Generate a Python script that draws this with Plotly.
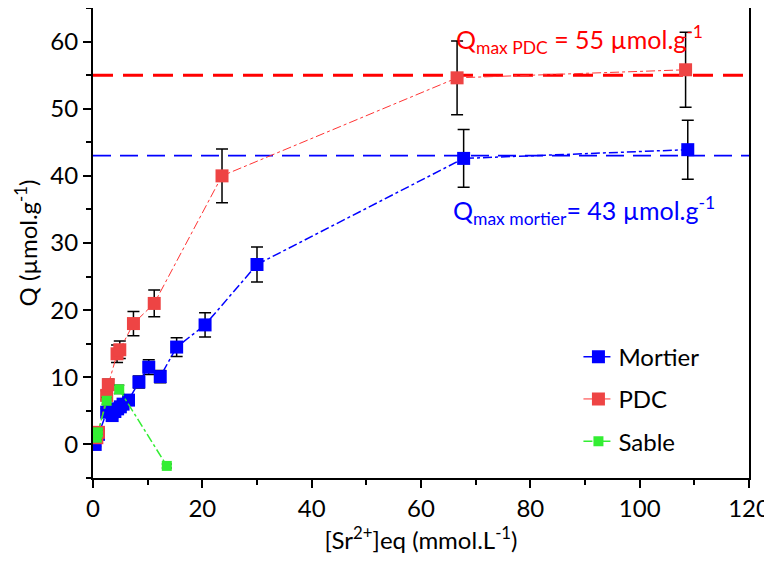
import plotly.graph_objects as go

# Mortier
mortier_x = [0.4, 1.0, 2.5, 3.0, 3.5, 4.0, 4.5, 5.0, 5.5, 6.5, 8.4, 10.2, 12.3, 15.3, 20.5, 30.0, 67.8, 108.8]
mortier_y = [0.0, 1.5, 4.8, 5.2, 4.3, 4.9, 5.3, 5.6, 6.0, 6.6, 9.3, 11.5, 10.1, 14.5, 17.8, 26.8, 42.6, 43.9]
mortier_err = [0.3, 0.3, 0.5, 0.5, 0.4, 0.5, 0.5, 0.5, 0.6, 0.6, 0.9, 1.1, 0.9, 1.4, 1.8, 2.6, 4.3, 4.4]

# PDC
pdc_x = [0.7, 1.0, 2.5, 2.8, 4.4, 4.9, 7.4, 11.2, 23.6, 66.6, 108.4]
pdc_y = [1.0, 1.8, 7.3, 8.9, 13.5, 14.1, 18.0, 21.0, 40.0, 54.6, 55.8]
pdc_err = [0.2, 0.2, 0.7, 0.8, 1.3, 1.3, 1.8, 2.0, 4.0, 5.5, 5.6]

# Sable
sable_x = [0.7, 0.9, 2.5, 4.8, 13.5]
sable_y = [1.0, 1.8, 6.5, 8.2, -3.2]
sable_err = [0.3, 0.3, 0.5, 0.6, 0.3]

# Qmax
qmax_pdc = 55
qmax_mortier = 43

x_range = [0, 120]
y_range = [-5, 65]

BLUE = "#0000ff"
RED = "#ee4444"
GREEN = "#33ee33"
FONT = "Lato"

fig = go.Figure()

fig.add_trace(go.Scatter(x=x_range, y=[qmax_pdc, qmax_pdc], mode="lines",
                         line=dict(color="#ff0000", width=3, dash="20px,10px"),
                         showlegend=False, hoverinfo="skip"))
fig.add_trace(go.Scatter(x=x_range, y=[qmax_mortier, qmax_mortier], mode="lines",
                         line=dict(color=BLUE, width=1.8, dash="18px,9px"),
                         showlegend=False, hoverinfo="skip"))

fig.add_trace(go.Scatter(
    x=mortier_x, y=mortier_y, name="Mortier", mode="lines+markers", legendgroup="m",
    line=dict(color=BLUE, width=1.5, dash="dashdot"),
    marker=dict(symbol="square", size=13, color=BLUE),
    error_y=dict(type="data", array=mortier_err, color="black", thickness=1.5, width=6)))
fig.add_trace(go.Scatter(
    x=pdc_x, y=pdc_y, name="PDC", mode="lines+markers", legendgroup="p",
    line=dict(color="#ff3333", width=1, dash="dashdot"),
    marker=dict(symbol="square", size=13, color=RED),
    error_y=dict(type="data", array=pdc_err, color="black", thickness=1.5, width=6)))
fig.add_trace(go.Scatter(
    x=sable_x, y=sable_y, name="Sable", mode="lines+markers", legendgroup="s",
    line=dict(color=GREEN, width=1.5, dash="dashdot"),
    marker=dict(symbol="square", size=10, color=GREEN),
    error_y=dict(type="data", array=sable_err, color="black", thickness=1.5, width=5)))

fig.add_annotation(xref="x", yref="y", x=89, y=60.3,
                   text="Q<sub>max PDC</sub> = 55 µmol.g<sup>-1</sup>",
                   showarrow=False, font=dict(family=FONT, size=25, color="#ff0000"))
fig.add_annotation(xref="x", yref="y", x=89.8, y=34.8,
                   text="Q<sub>max mortier</sub>= 43 µmol.g<sup>-1</sup>",
                   showarrow=False, font=dict(family=FONT, size=25, color=BLUE))

fig.update_layout(
    width=764, height=557,
    margin=dict(l=85, r=23, t=0, b=87, autoexpand=False),
    plot_bgcolor="white", paper_bgcolor="white",
    font=dict(family=FONT, size=24, color="black"),
    showlegend=True,
    legend=dict(x=0.74, y=0.305, xanchor="left", yanchor="top",
                bgcolor="rgba(0,0,0,0)", font=dict(size=24), tracegroupgap=8),
    xaxis=dict(range=x_range, dtick=20, showgrid=False, zeroline=False, automargin=False,
               showline=True, linecolor="black", linewidth=2, mirror=True,
               ticks="outside", ticklen=8, tickwidth=1.5, tickcolor="black",
               minor=dict(dtick=10, ticks="outside", ticklen=5, tickcolor="black"),
               title=dict(text="[Sr<sup>2+</sup>]eq (mmol.L<sup>-1</sup>)", font=dict(size=24), standoff=10)),
    yaxis=dict(range=y_range, tickvals=[0, 10, 20, 30, 40, 50, 60], showgrid=False, zeroline=False,
               automargin=False,
               showline=True, linecolor="black", linewidth=2, mirror=True,
               ticks="outside", ticklen=8, tickwidth=1.5, tickcolor="black",
               minor=dict(dtick=5, ticks="outside", ticklen=5, tickcolor="black"),
               title=dict(text="Q (µmol.g<sup>-1</sup>)", font=dict(size=24), standoff=6)),
)

fig.write_html("out.html")
